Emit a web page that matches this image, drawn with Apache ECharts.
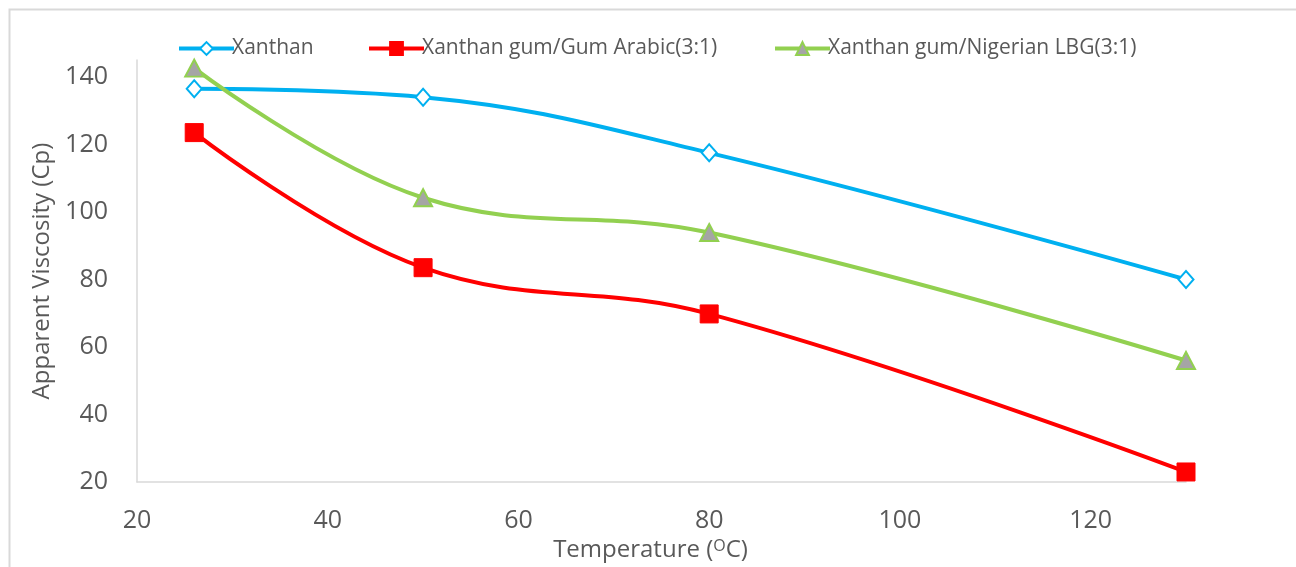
<!DOCTYPE html>
<html>
<head>
<meta charset="utf-8">
<script src="https://cdn.jsdelivr.net/npm/echarts@6/dist/echarts.min.js"></script>
<style>
html,body{margin:0;padding:0;background:#fff;}
#chart{width:1296px;height:567px;}
</style>
</head>
<body>
<div id="chart"></div>
<script>
const temperatures = [26, 50, 80, 130];
const xanthan = [136.5, 134, 117.5, 80];
const gumArabic = [123.5, 83.5, 69.8, 23];
const nigerianLBG = [142.6, 104.2, 93.9, 56];
const seriesNames = ['Xanthan', 'Xanthan gum/Gum Arabic(3:1)', 'Xanthan gum/Nigerian LBG(3:1)'];
const xTicks = [20, 40, 60, 80, 100, 120];
const yTicks = [20, 40, 60, 80, 100, 120, 140];

const FONT = 'Open Sans';
const pair = (xs, ys) => xs.map((x, i) => [x, ys[i]]);

const chart = echarts.init(document.getElementById('chart'), null, {renderer: 'canvas'});
const legendCommon = {
  top: 33, itemWidth: 55, itemHeight: 16,
  lineStyle: {width: 4},
  textStyle: {fontFamily: FONT, fontSize: 21, color: '#595959', padding: [0, 0, 0, -7]},
  selectedMode: false
};
chart.setOption({
  backgroundColor: '#fff',
  animation: false,
  graphic: [{
    type: 'rect', left: 7, top: 7, silent: true,
    shape: {width: 1288, height: 600},
    style: {fill: 'none', stroke: '#D9D9D9', lineWidth: 2}
  }],
  legend: [
    Object.assign({left: 172, data: [seriesNames[0]]}, legendCommon),
    Object.assign({left: 362, data: [seriesNames[1]]}, legendCommon),
    Object.assign({left: 768, data: [seriesNames[2]]}, legendCommon)
  ],
  grid: {left: 137, right: 110, top: 60, bottom: 77},
  xAxis: {
    type: 'value', min: 20, max: 130, interval: 20,
    axisLine: {show: true, lineStyle: {color: '#D9D9D9', width: 1.5}},
    axisTick: {show: false},
    splitLine: {show: false},
    axisLabel: {
      fontFamily: FONT, fontSize: 25, color: '#595959', margin: 26,
      showMaxLabel: false,
      formatter: v => (xTicks.indexOf(v) >= 0 ? String(v) : '')
    },
    name: '{t|Temperature (}{s|O}{t|C)}',
    nameLocation: 'middle', nameGap: 46,
    nameTextStyle: {
      padding: [0, 22, 0, 0],
      rich: {
        t: {fontFamily: FONT, fontSize: 24, color: '#595959'},
        s: {fontFamily: FONT, fontSize: 16, color: '#595959', verticalAlign: 'top', padding: [0, 0, 8, 0]}
      }
    }
  },
  yAxis: {
    type: 'value', min: 20, max: 145, interval: 20,
    axisLine: {show: true, lineStyle: {color: '#D9D9D9', width: 1.5}},
    axisTick: {show: false},
    splitLine: {show: false},
    axisLabel: {
      fontFamily: FONT, fontSize: 25, color: '#595959', margin: 29,
      showMaxLabel: false,
      formatter: v => (yTicks.indexOf(v) >= 0 ? String(v) : '')
    },
    name: 'Apparent Viscosity (Cp)',
    nameLocation: 'middle', nameGap: 82, nameRotate: 90,
    nameTextStyle: {fontFamily: FONT, fontSize: 24, color: '#595959'}
  },
  series: [
    {
      name: seriesNames[0], type: 'line', smooth: 0.4,
      data: pair(temperatures, xanthan),
      symbol: 'diamond', symbolSize: [15, 17],
      lineStyle: {color: '#00B0F0', width: 4},
      itemStyle: {color: '#fff', borderColor: '#00B0F0', borderWidth: 2}
    },
    {
      name: seriesNames[1], type: 'line', smooth: 0.4,
      data: pair(temperatures, gumArabic),
      symbol: 'rect', symbolSize: 18,
      lineStyle: {color: '#FF0000', width: 4},
      itemStyle: {color: '#FF0000', borderColor: '#FF0000', borderWidth: 1}
    },
    {
      name: seriesNames[2], type: 'line', smooth: 0.4,
      data: pair(temperatures, nigerianLBG),
      symbol: 'triangle', symbolSize: [18, 17],
      lineStyle: {color: '#92D050', width: 4},
      itemStyle: {color: '#A5A5A5', borderColor: '#92D050', borderWidth: 2}
    }
  ]
});
</script>
</body>
</html>
